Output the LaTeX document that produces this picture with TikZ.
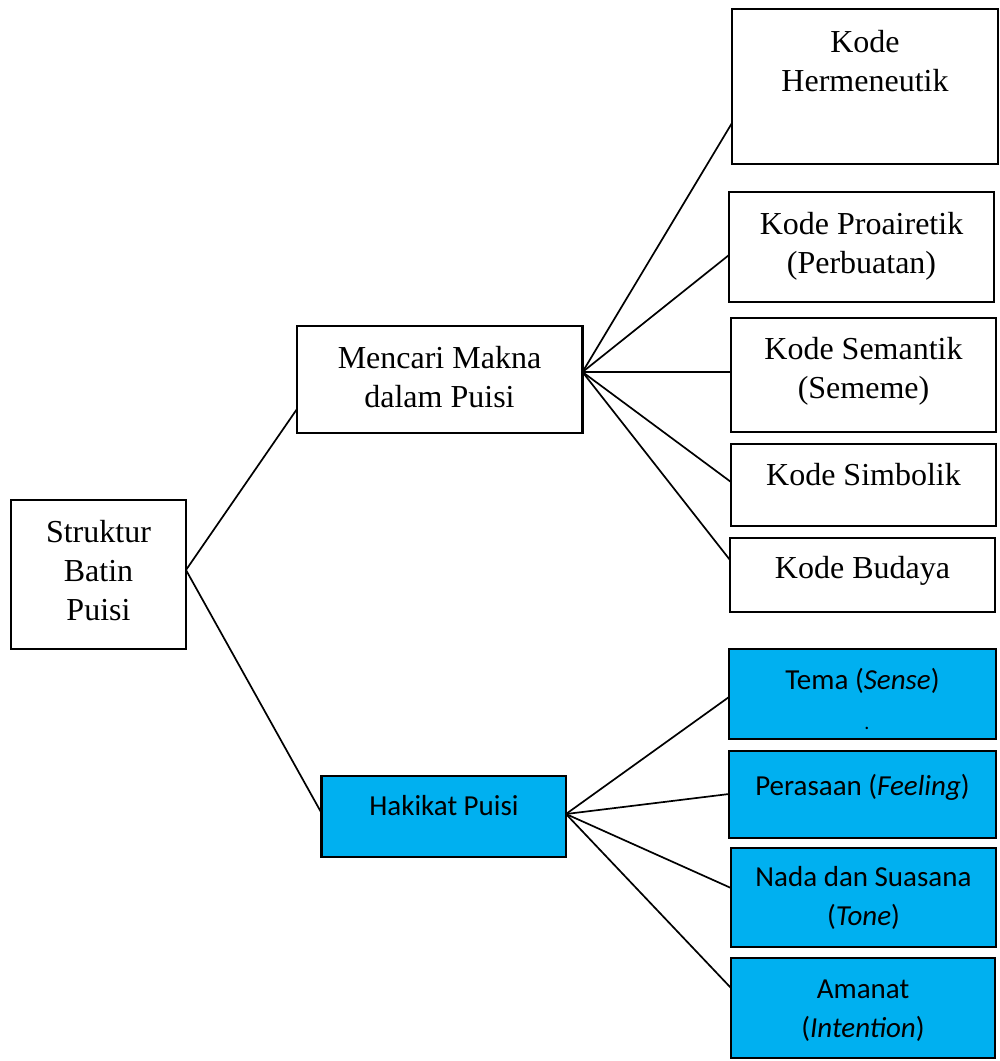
\documentclass[tikz,border=0pt]{standalone}
\usepackage{fontspec}
\setmainfont{Liberation Serif}
\newfontfamily\calfont{Carlito}
\usetikzlibrary{calc}
\definecolor{lblue}{HTML}{00B0F0}
\newcommand\mybox[6]{\node[#6, minimum width={(#4)-(#2)}, minimum height={(#5)-(#3)}] (#1) at ({((#2)+(#4))/2},{((#3)+(#5))/2}) {};}
\begin{document}
\begin{tikzpicture}[x=1pt,y=-1pt,
  box/.style={draw=black, line width=2.6pt, inner sep=0pt, outer sep=0pt, fill=white},
  bluebox/.style={box, fill=lblue},
  serif/.style={anchor=base, inner sep=0pt, font=\fontsize{32}{39}\selectfont},
  sans/.style={anchor=base, inner sep=0pt, font=\calfont\fontsize{29}{39}\selectfont},
  link/.style={line width=1.7pt}]
\useasboundingbox (0,0) rectangle (1000,1061);
% boxes
\mybox{sb}{11}{500}{186}{649}{box}
\mybox{mm}{297}{326}{582.5}{433}{box}
\mybox{hp}{321.5}{776}{566}{857}{bluebox}
\mybox{kh}{732}{9}{998}{164}{box}
\mybox{kp}{729}{192}{994}{302}{box}
\mybox{ks}{731}{318}{996}{432}{box}
\mybox{ksi}{731}{444}{996}{526}{box}
\mybox{kb}{730}{538}{995}{612}{box}
\mybox{tm}{729}{649}{996}{739}{bluebox}
\mybox{pr}{729}{751}{996}{838}{bluebox}
\mybox{nd}{731}{848}{996}{947}{bluebox}
\mybox{am}{731}{958}{995}{1058}{bluebox}
% texts
\node[serif] (tsb) at (98.5,542) {\begin{tabular}[t]{@{}c@{}}Struktur\\Batin\\Puisi\end{tabular}};
\node[serif] (tmm) at (439.5,368) {\begin{tabular}[t]{@{}c@{}}Mencari Makna\\dalam Puisi\end{tabular}};
\node[sans] (thp) at (444,815) {Hakikat Puisi};
\node[serif] (tkh) at (865,52) {\begin{tabular}[t]{@{}c@{}}Kode\\Hermeneutik\end{tabular}};
\node[serif] (tkp) at (861.5,234) {\begin{tabular}[t]{@{}c@{}}Kode Proairetik\\(Perbuatan)\end{tabular}};
\node[serif] (tks) at (863.5,359) {\begin{tabular}[t]{@{}c@{}}Kode Semantik\\(Sememe)\end{tabular}};
\node[serif] (tksi) at (863.5,485) {Kode Simbolik};
\node[serif] (tkb) at (862.5,578) {Kode Budaya};
\node[sans] (ttm) at (862.5,689) {Tema (\textit{Sense})};
\node[anchor=base, inner sep=0pt, font=\calfont\fontsize{20}{24}\selectfont] (tdot) at (867,729) {.};
\node[sans] (tpr) at (862.5,795) {Perasaan (\textit{Feeling})};
\node[sans] (tnd) at (863.5,886.5) {\begin{tabular}[t]{@{}c@{}}Nada dan Suasana\\(\textit{Tone})\end{tabular}};
\node[sans] (tam) at (863,998) {\begin{tabular}[t]{@{}c@{}}Amanat\\(\textit{Intention})\end{tabular}};
% connectors
\draw[link] ($(sb.east)+(0,-4.5)$) -- ($(mm.west)+(0,29.5)$);
\draw[link] ($(sb.east)+(0,-4.5)$) -- ($(hp.west)+(0,-3.5)$);
\foreach \n/\d in {kh/36.5, kp/8, ks/-3, ksi/-3, kb/-15}
  \draw[link] ($(mm.east)+(0,-7.5)$) -- ($(\n.west)+(0,\d)$);
\foreach \n/\d in {tm/3, pr/-0.5, nd/-9.5, am/-20}
  \draw[link] ($(hp.east)+(0,-2.5)$) -- ($(\n.west)+(0,\d)$);
\end{tikzpicture}
\end{document}
